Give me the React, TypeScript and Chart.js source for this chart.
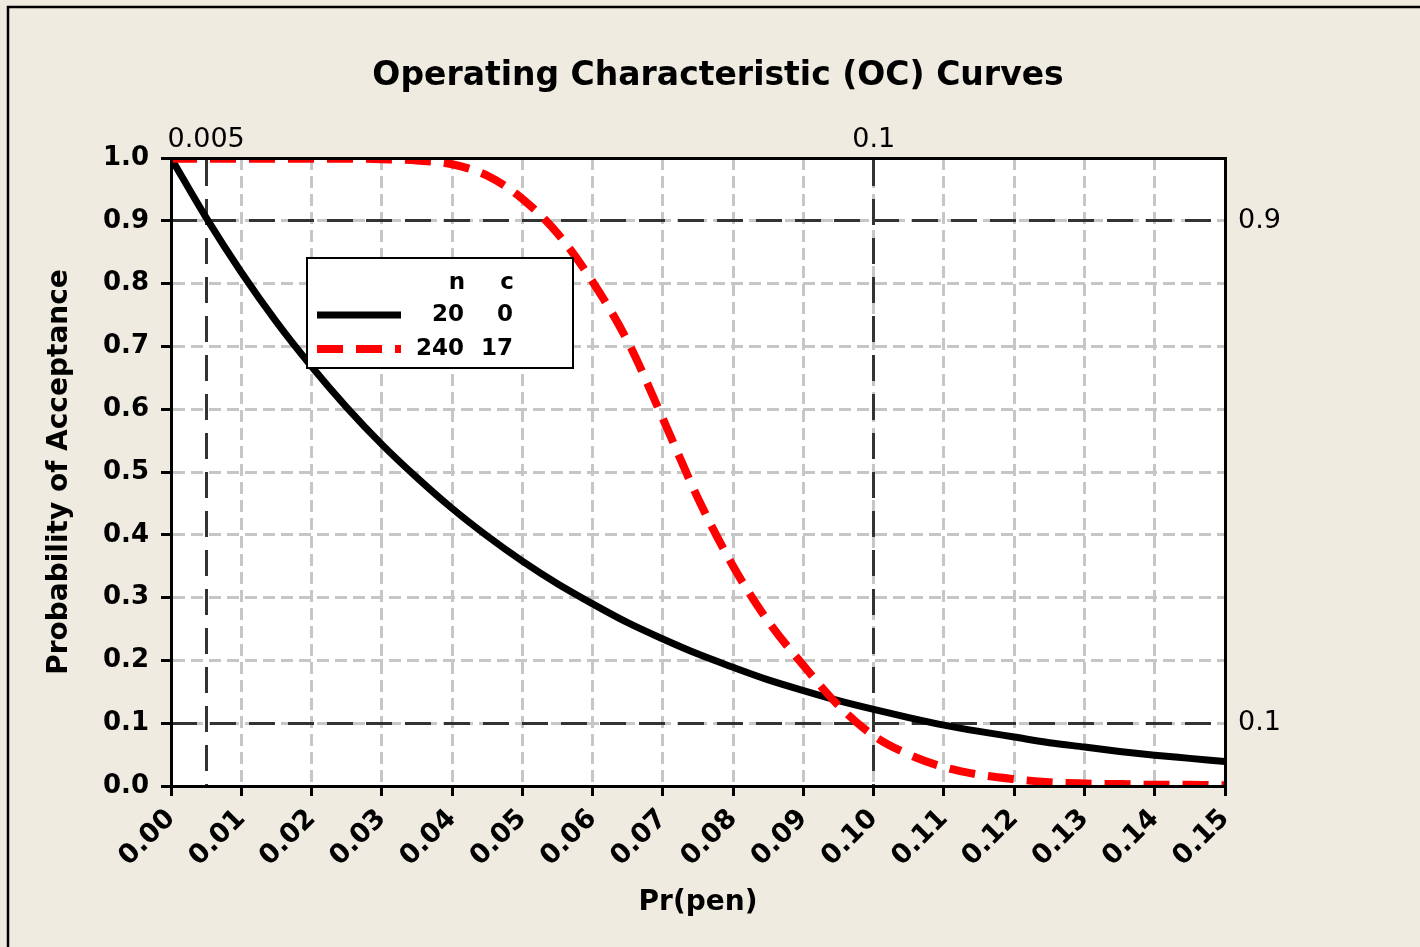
import React, { useEffect, useRef } from 'react';
import { Chart, registerables } from 'chart.js';

Chart.register(...registerables);

const FONT = '"DejaVu Sans", Verdana, sans-serif';

// Fraction defective (x) at which the curves were read
const pValues = [
  0.0, 0.005, 0.01, 0.015, 0.02, 0.025, 0.03, 0.035, 0.04, 0.045,
  0.05, 0.055, 0.06, 0.065, 0.07, 0.075, 0.08, 0.085, 0.09, 0.095,
  0.1, 0.105, 0.11, 0.115, 0.12, 0.125, 0.13, 0.135, 0.14, 0.145, 0.15,
];

// Probability of acceptance, plan n=20, c=0 (black solid)
const paPlanA = [
  1.0, 0.905, 0.818, 0.739, 0.668, 0.603, 0.544, 0.491, 0.442, 0.398,
  0.358, 0.322, 0.29, 0.26, 0.234, 0.21, 0.189, 0.169, 0.152, 0.136,
  0.122, 0.109, 0.097, 0.087, 0.078, 0.069, 0.062, 0.055, 0.049, 0.044, 0.039,
];

// Probability of acceptance, plan n=240, c=17 (red dashed)
const paPlanB = [
  0.999, 0.999, 0.999, 0.999, 0.999, 0.999, 0.998, 0.996, 0.99, 0.972,
  0.935, 0.88, 0.803, 0.708, 0.585, 0.458, 0.35, 0.262, 0.192, 0.128,
  0.08, 0.05, 0.03, 0.018, 0.011, 0.006, 0.004, 0.003, 0.002, 0.002, 0.001,
];

const sampleSizes = [20, 240];
const acceptanceNumbers = [0, 17];
const legendHeaders = ['n', 'c'];

const xTickValues = [
  0.0, 0.01, 0.02, 0.03, 0.04, 0.05, 0.06, 0.07, 0.08, 0.09,
  0.1, 0.11, 0.12, 0.13, 0.14, 0.15,
];
const yTickValues = [0.0, 0.1, 0.2, 0.3, 0.4, 0.5, 0.6, 0.7, 0.8, 0.9, 1.0];
const topRefValues = [0.005, 0.1];
const rightRefValues = [0.1, 0.9];

const titleText = 'Operating Characteristic (OC) Curves';
const xTitle = 'Pr(pen)';
const yTitle = 'Probability of Acceptance';

const BG = '#efebe0';
const GRID = '#c6c6c6';
const REF = '#333333';

const bgPlugin = {
  id: 'ocBackground',
  beforeDraw(chart: any) {
    const { ctx, chartArea, width, height } = chart;
    ctx.save();
    ctx.fillStyle = BG;
    ctx.fillRect(0, 0, width, height);
    ctx.fillStyle = '#ffffff';
    ctx.fillRect(chartArea.left, chartArea.top, chartArea.right - chartArea.left, chartArea.bottom - chartArea.top);
    ctx.strokeStyle = '#000';
    ctx.lineWidth = 2.5;
    ctx.beginPath();
    ctx.moveTo(8, height + 10);
    ctx.lineTo(8, 7);
    ctx.lineTo(width + 10, 7);
    ctx.stroke();
    ctx.restore();
  },
};

const legendPlugin = {
  id: 'ocLegend',
  afterDatasetsDraw(chart: any) {
    const { ctx, chartArea } = chart;
    const x0 = chartArea.left + 136;
    const y0 = chartArea.top + 100;
    const w = 266;
    const h = 110;
    ctx.save();
    ctx.fillStyle = '#fff';
    ctx.fillRect(x0, y0, w, h);
    ctx.lineWidth = 2;
    ctx.strokeStyle = '#000';
    ctx.setLineDash([]);
    ctx.strokeRect(x0, y0, w, h);
    ctx.font = `bold 23px ${FONT}`;
    ctx.fillStyle = '#000';
    ctx.textAlign = 'right';
    ctx.textBaseline = 'middle';
    ctx.fillText(legendHeaders[0], x0 + 158, y0 + 25);
    ctx.fillText(legendHeaders[1], x0 + 207, y0 + 25);
    chart.data.datasets.forEach((ds: any, i: number) => {
      const yy = y0 + 57 + i * 34;
      ctx.beginPath();
      ctx.setLineDash(ds.borderDash || []);
      ctx.lineWidth = ds.borderWidth;
      ctx.strokeStyle = ds.borderColor;
      ctx.lineCap = 'butt';
      ctx.moveTo(x0 + 10, yy);
      ctx.lineTo(x0 + 94, yy);
      ctx.stroke();
      ctx.setLineDash([]);
      ctx.fillStyle = '#000';
      ctx.fillText(String(sampleSizes[i]), x0 + 157, yy);
      ctx.fillText(String(acceptanceNumbers[i]), x0 + 206, yy);
    });
    ctx.restore();
  },
};

const edgeHidden = (lo: number, hi: number) => (c: any) => {
  const v = c.tick ? c.tick.value : null;
  if (v === null) return GRID;
  return Math.abs(v - lo) < 1e-9 || Math.abs(v - hi) < 1e-9 ? 'rgba(0,0,0,0)' : GRID;
};

export default function App() {
  const canvasRef = useRef<HTMLCanvasElement | null>(null);

  useEffect(() => {
    const prevMargin = document.body.style.margin;
    document.body.style.margin = '0';
    const canvas = canvasRef.current;
    if (!canvas) return;
    const chart = new Chart(canvas, {
      type: 'line',
      data: {
        datasets: [
          {
            label: `n=${sampleSizes[0]} c=${acceptanceNumbers[0]}`,
            data: pValues.map((p, i) => ({ x: p, y: paPlanA[i] })),
            borderColor: '#000000',
            borderWidth: 7,
            pointRadius: 0,
            fill: false,
            cubicInterpolationMode: 'monotone',
            order: 1,
            clip: 0,
          },
          {
            label: `n=${sampleSizes[1]} c=${acceptanceNumbers[1]}`,
            data: pValues.map((p, i) => ({ x: p, y: paPlanB[i] })),
            borderColor: '#ff0000',
            borderWidth: 8,
            borderDash: [26, 13],
            pointRadius: 0,
            fill: false,
            cubicInterpolationMode: 'monotone',
            order: 0,
            clip: 0,
          },
        ],
      } as any,
      options: {
        responsive: false,
        animation: false,
        devicePixelRatio: 1,
        layout: { padding: { left: 16, top: 0, right: 0, bottom: 0 } },
        plugins: {
          legend: { display: false },
          tooltip: { enabled: false },
          title: {
            display: true,
            text: titleText,
            color: '#000',
            font: { family: FONT, size: 33, weight: 'bold', lineHeight: 1.2 },
            padding: { top: 57, bottom: 0 },
          },
        },
        scales: {
          x: {
            type: 'linear',
            position: 'bottom',
            min: 0,
            max: 0.15,
            afterBuildTicks: (s: any) => {
              s.ticks = xTickValues.map((v) => ({ value: v }));
            },
            afterFit: (s: any) => {
              s.height = 161;
            },
            ticks: {
              callback: (v: any) => Number(v).toFixed(2),
              font: { family: FONT, size: 27, weight: 'bold' },
              color: '#000',
              minRotation: 45,
              maxRotation: 45,
              autoSkip: false,
              padding: 7,
            },
            grid: {
              color: edgeHidden(0, 0.15),
              lineWidth: 3,
              tickColor: '#000',
              tickLength: 10,
              tickWidth: 3,
              drawTicks: true,
            },
            border: { display: true, color: '#000', width: 3, dash: [12, 6], z: 1 },
            title: {
              display: true,
              text: xTitle,
              color: '#000',
              font: { family: FONT, size: 28, weight: 'bold' },
              padding: { top: 0, bottom: 27 },
            },
          },
          x2: {
            type: 'linear',
            position: 'top',
            min: 0,
            max: 0.15,
            afterBuildTicks: (s: any) => {
              s.ticks = topRefValues.map((v) => ({ value: v }));
            },
            afterFit: (s: any) => {
              s.height = 158 - (57 + 33 * 1.2);
            },
            ticks: {
              callback: (v: any) => String(v),
              font: { family: FONT, size: 27 },
              color: '#000',
              minRotation: 0,
              maxRotation: 0,
              autoSkip: false,
              padding: 2,
            },
            grid: { color: REF, lineWidth: 3, drawTicks: false, drawOnChartArea: true },
            border: { display: true, color: '#000', width: 3, dash: [26, 13], z: 1 },
          },
          y: {
            type: 'linear',
            position: 'left',
            min: 0,
            max: 1,
            afterBuildTicks: (s: any) => {
              s.ticks = yTickValues.map((v) => ({ value: v }));
            },
            afterFit: (s: any) => {
              s.width = 155;
            },
            ticks: {
              callback: (v: any) => Number(v).toFixed(1),
              font: { family: FONT, size: 26, weight: 'bold' },
              color: '#000',
              autoSkip: false,
              padding: 12,
            },
            grid: {
              color: edgeHidden(0, 1),
              lineWidth: 3,
              tickColor: '#000',
              tickLength: 10,
              tickWidth: 3,
              drawTicks: true,
            },
            border: { display: true, color: '#000', width: 3, dash: [12, 6], z: 1 },
            title: {
              display: true,
              text: yTitle,
              color: '#000',
              font: { family: FONT, size: 28, weight: 'bold' },
              padding: { top: 27, bottom: 0 },
            },
          },
          y2: {
            type: 'linear',
            position: 'right',
            min: 0,
            max: 1,
            afterBuildTicks: (s: any) => {
              s.ticks = rightRefValues.map((v) => ({ value: v }));
            },
            afterFit: (s: any) => {
              s.width = 195;
            },
            ticks: {
              callback: (v: any) => String(v),
              font: { family: FONT, size: 27 },
              color: '#000',
              autoSkip: false,
              padding: 13,
            },
            grid: { color: REF, lineWidth: 3, drawTicks: false, drawOnChartArea: true },
            border: { display: true, color: '#000', width: 3, dash: [26, 13], z: 1 },
          },
        },
      } as any,
      plugins: [bgPlugin, legendPlugin],
    });
    return () => {
      chart.destroy();
      document.body.style.margin = prevMargin;
    };
  }, []);

  return (
    <div style={{ position: 'absolute', left: 0, top: 0, width: 1420, height: 947 }}>
      <canvas ref={canvasRef} width={1420} height={947} style={{ display: 'block', width: 1420, height: 947 }} />
    </div>
  );
}
